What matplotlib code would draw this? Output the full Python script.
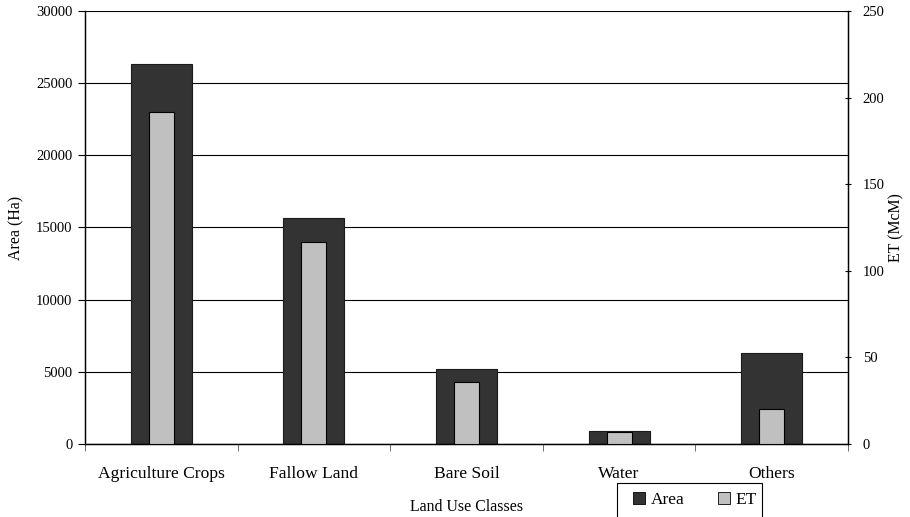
import numpy as np
import matplotlib.pyplot as plt
from matplotlib.patches import Patch, Rectangle

plt.rcParams["font.family"] = ["Liberation Serif", "DejaVu Serif"]
plt.rcParams["font.size"] = 11.4

# data
classes = ["Agriculture Crops", "Fallow Land", "Bare Soil", "Water", "Others"]
area_ha = [26300, 15650, 5200, 920, 6300]
et_mcm = [191.5, 116.5, 35.6, 6.8, 20.0]

x = np.arange(len(classes))

fig = plt.figure(figsize=(9.1, 5.17), dpi=100)
ax1 = fig.add_axes([85 / 910, 1 - 444 / 517, (848 - 85) / 910, (444 - 11) / 517])
ax2 = ax1.twinx()

# Area bars (left axis)
ax1.bar(x, area_ha, width=0.4, color="#333333", edgecolor="#1a1a1a",
        linewidth=0.8, zorder=2)
ax1.set_xlim(-0.5, len(classes) - 0.5)
ax1.set_ylim(0, 30000)
ax1.set_yticks(np.arange(0, 30001, 5000))
ax1.yaxis.grid(True, color="black", linewidth=0.8, zorder=0)
ax1.set_axisbelow(True)
ax1.set_ylabel("Area (Ha)", labelpad=8)
ax1.set_xlabel("Land Use Classes", labelpad=12)
ax1.set_xticks(x)
ax1.set_xticklabels(classes, fontsize=12.6)
ax1.set_xticks(np.arange(-0.5, len(classes)), minor=True)
ax1.tick_params(axis="x", which="major", length=0, pad=16)
ax1.tick_params(axis="x", which="minor", length=5, direction="out", color="#555555")
ax1.tick_params(axis="y", length=5, direction="out", pad=4, labelsize=10.5)

# ET bars (right axis)
ax2.bar(x, et_mcm, width=0.165, color="#c0c0c0", edgecolor="black",
        linewidth=0.8, zorder=3)
ax2.set_ylim(0, 250)
ax2.set_yticks(np.arange(0, 251, 50))
ax2.tick_params(axis="y", length=5, direction="inout", pad=8, labelsize=10.5)
ax2.set_ylabel("ET (McM)", labelpad=3)

for ax in (ax1, ax2):
    ax.spines["top"].set_visible(False)
    ax.spines["left"].set_linewidth(0.9)
    ax.spines["right"].set_linewidth(0.9)
    ax.spines["bottom"].set_linewidth(0.9)

# legend: frame drawn by hand so it runs off the bottom edge like the original
fig.patches.append(Rectangle((617 / 910, -0.05), (762 - 617) / 910, 0.05 + (517 - 483) / 517,
                             transform=fig.transFigure, fill=False,
                             edgecolor="black", linewidth=0.8))
handles = [Patch(facecolor="#333333", edgecolor="black", linewidth=0.6, label="Area"),
           Patch(facecolor="#c0c0c0", edgecolor="black", linewidth=0.6, label="ET")]
fig.legend(handles=handles, loc="upper left",
           bbox_to_anchor=(624 / 910, 1 - 483 / 517), borderaxespad=0,
           ncol=2, frameon=False,
           handlelength=0.7, handleheight=0.7, handletextpad=0.35,
           columnspacing=1.9, borderpad=0.5, fontsize=12.5)

fig.savefig("out.png", dpi=100)
